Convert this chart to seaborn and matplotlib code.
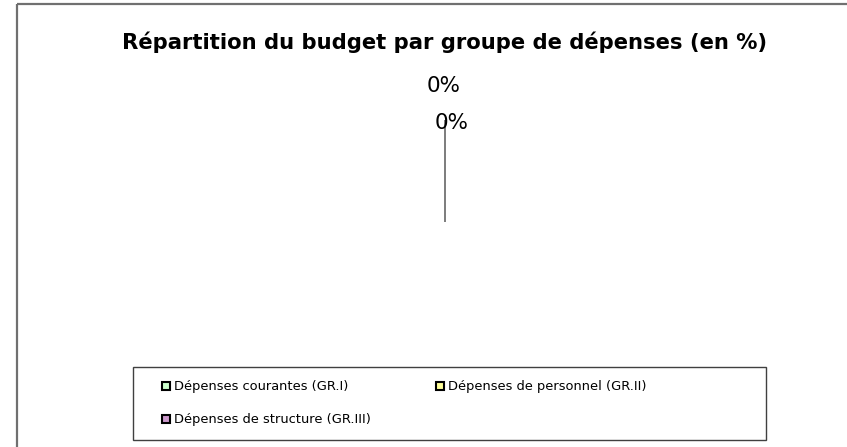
import numpy as np
import matplotlib
matplotlib.use("Agg")
import matplotlib.pyplot as plt
from matplotlib.lines import Line2D
from matplotlib.patches import Rectangle
import seaborn as sns

# données du graphique
groupes = ["Dépenses courantes (GR.I)", "Dépenses de personnel (GR.II)",
           "Dépenses de structure (GR.III)"]
montants = [0, 0, 0]
couleurs = ["#ccffcc", "#ffff99", "#cc99cc"]
titre = "Répartition du budget par groupe de dépenses (en %)"

sns.set_theme(style="white")
plt.rcParams['font.family'] = ['DejaVu Sans']

fig = plt.figure(figsize=(8.47, 4.47), dpi=100)
ax = fig.add_axes([0, 0, 1, 1])
ax.set_xlim(0, 847)
ax.set_ylim(447, 0)
ax.axis("off")

# cadre extérieur
ax.plot([17, 847], [4, 4], color="#707070", lw=1.6, solid_capstyle="butt")
ax.plot([17, 17], [4, 447], color="#707070", lw=1.6, solid_capstyle="butt")

ax.text(445, 42, titre, ha="center", va="center", fontsize=15.2,
        fontweight="bold", color="black")

# camembert (toutes les parts sont nulles)
cx, cy, r = 445, 222, 102
total = sum(montants)
parts = [m / total * 100 if total else 0.0 for m in montants]
cum = np.concatenate([[0], np.cumsum(parts)])
angles = np.deg2rad(90 - 360 * cum / 100)
for a0, a1, c in zip(angles[:-1], angles[1:], couleurs):
    t = np.linspace(a0, a1, 50)
    xs = np.concatenate([[cx], cx + r * np.cos(t), [cx]])
    ys = np.concatenate([[cy], cy - r * np.sin(t), [cy]])
    ax.fill(xs, ys, color=c, ec="#7f7f7f", lw=1.2)

# étiquettes (la troisième est masquée sous la deuxième)
decal = [(-1, -136), (7, -99)]
for p, (dx, dy) in zip(parts, decal):
    ax.text(cx + dx, cy + dy, f"{p:.0f}%", ha="center", va="center",
            fontsize=15.5, color="black")

# légende (remplie ligne par ligne)
ax.add_patch(Rectangle((133, 367), 633, 73, fill=False, ec="#404040", lw=1.0))
poignees = [Line2D([], [], ls="none", marker="s", markersize=6,
                   markerfacecolor=c, markeredgecolor="black",
                   markeredgewidth=1.5) for c in couleurs]
ordre = [0, 2, 1]
fig.legend([poignees[i] for i in ordre], [groupes[i] for i in ordre],
           ncol=2, frameon=False, fontsize=9.4, labelcolor="black",
           loc="upper left", bbox_to_anchor=(153 / 847, 1 - 371 / 447),
           handlelength=0.6, handletextpad=0.3, columnspacing=5.0,
           labelspacing=1.55, borderpad=0.2)

fig.savefig("out.png", dpi=100)
